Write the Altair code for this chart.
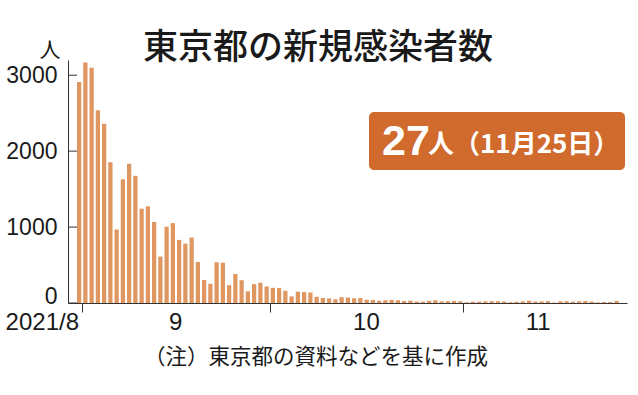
import altair as alt
import pandas as pd

# ---- data -------------------------------------------------------------
title_text = "東京都の新規感染者数"
unit_label = "人"
note_text = "（注）東京都の資料などを基に作成"
latest_value = "27"
latest_suffix = "人（11月25日）"

start_date = "2021-08-31"
daily_cases = [
    2909, 3168, 3099, 2539, 2362, 1853, 968, 1629, 1834, 1675,
    1242, 1273, 1067, 611, 1004, 1052, 831, 782, 862, 539,
    302, 253, 537, 531, 235, 382, 300, 154, 248, 267, 218,
    200, 196, 161, 87, 149, 144, 138, 82, 66, 60,
    49, 77, 72, 62, 65, 43, 40, 29, 36, 41,
    36, 26, 32, 19, 17, 29, 36, 21, 24, 27, 22,
    9, 18, 17, 21, 23, 23, 20, 11, 17, 20,
    31, 18, 20, 24, 6, 22, 23, 17, 22, 26,
    19, 8, 13, 13, 27,
]

month_labels = ["2021/8", "9", "10", "11"]
month_label_day = [0, 15, 45.5, 73]      # days from 2021-09-01
month_label_align = ["right", "center", "center", "center"]
month_boundaries = [0, 30, 61]           # Sep 1, Oct 1, Nov 1
y_ticks = [0, 1000, 2000, 3000]

# ---- build tables -------------------------------------------------------
dates = pd.date_range(start_date, periods=len(daily_cases), freq="D")
ref = pd.Timestamp("2021-09-01")
bars = pd.DataFrame({
    "day": [(d - ref).days for d in dates],
    "cases": daily_cases,
})
months = pd.DataFrame({"label": month_labels, "day": month_label_day, "align": month_label_align})

W, H = 559, 243
bar_color = "#DF9660"
box_color = "#D06A2D"
axis_color = "#333333"
text_color = "#1a1a1a"

xscale = alt.Scale(domain=[-2.24, 87.2], nice=False, zero=False)
yscale = alt.Scale(domain=[0, 3200], nice=False)

bar_layer = alt.Chart(bars).transform_calculate(
    x0="datum.day + 0.2", x1="datum.day + 0.88"
).mark_bar(color=bar_color, opacity=1).encode(
    x=alt.X("x0:Q", scale=xscale, axis=alt.Axis(
        values=month_boundaries, labels=False, tickSize=9, tickColor=axis_color,
        domainColor=axis_color, grid=False, title=None)),
    x2="x1:Q",
    y=alt.Y("cases:Q", scale=yscale, axis=alt.Axis(
        values=y_ticks, format="d", tickSize=0, labelPadding=11,
        labelFont="Liberation Sans", labelFontSize=23, labelColor=text_color,
        domainColor=axis_color, grid=False, title=None,
        labelFlush=True, labelFlushOffset=5)),
    y2=alt.datum(0),
)

tick_rules = alt.Chart(pd.DataFrame({"v": y_ticks})).mark_rule(
    color=axis_color, strokeWidth=1
).encode(
    y=alt.Y("v:Q", scale=yscale),
    x=alt.value(0),
    x2=alt.value(9),
)

def month_layer(al):
    return alt.Chart(months).transform_filter(
        f"datum.align == '{al}'"
    ).mark_text(
        font="Liberation Sans", fontSize=24, color=text_color, baseline="alphabetic",
        align=al, dx=(-3 if al == "right" else 0)
    ).encode(
        x=alt.X("day:Q", scale=xscale),
        y=alt.value(H + 27),
        text="label:N",
    )

def label(text, **kw):
    return alt.Chart(pd.DataFrame({"t": [text]})).mark_text(**kw).encode(text="t:N")

title = label(title_text, font="Noto Sans CJK JP", fontSize=35, fontWeight=500,
              color=text_color, align="center", baseline="alphabetic",
              x=250, y=-1)
unit = label(unit_label, font="Noto Sans CJK JP", fontSize=21, color=text_color,
             align="center", baseline="alphabetic", x=-18, y=-3)
note = label(note_text, font="Noto Sans CJK JP", fontSize=21.5, color=text_color,
             align="left", baseline="alphabetic", x=76, y=H + 61)

box = alt.Chart(pd.DataFrame({"t": [latest_value]})).mark_rect(
    color=box_color, cornerRadius=5
).encode(x=alt.value(301), x2=alt.value(557), y=alt.value(52), y2=alt.value(110))
big = label(latest_value, font="Liberation Sans", fontSize=43, fontWeight="bold",
            color="white", align="left", baseline="alphabetic", x=314, y=95)
small = label(latest_suffix, font="Noto Sans CJK JP", fontSize=26, fontWeight="bold",
              color="white", align="left", baseline="alphabetic", x=360, y=93)

chart = alt.layer(
    bar_layer, tick_rules, month_layer("right"), month_layer("center"),
    title, unit, note, box, big, small
).properties(
    width=W, height=H,
    padding={"left": 68, "top": 60, "right": 638 - 68 - W, "bottom": 395 - 60 - H},
    autosize=alt.AutoSizeParams(type="none"),
    background="white",
).configure_view(stroke=None)

chart.save("out.html", embed_options={"renderer": "svg", "actions": False})
